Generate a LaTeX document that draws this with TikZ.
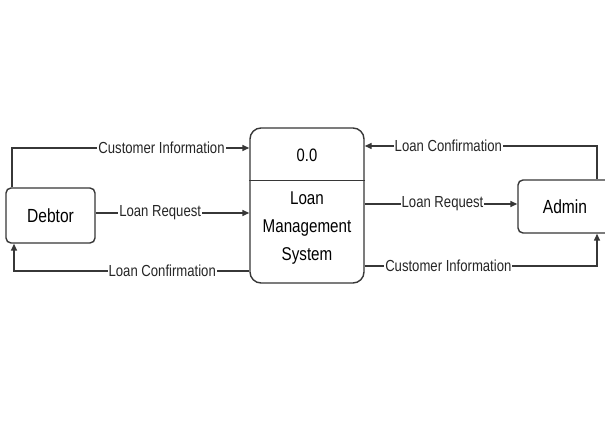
\documentclass[tikz,border=0pt]{standalone}
\usepackage{fontspec}
\setmainfont{Liberation Sans}[FakeStretch=0.82]
\usepackage{tikz}
\usetikzlibrary{arrows.meta}

\definecolor{linec}{RGB}{55,55,55}

\begin{document}
\begin{tikzpicture}[x=1pt,y=-1pt,
	entity/.style={draw=linec,line width=1.4pt,rounded corners=5pt,
		font=\fontsize{19}{21}\selectfont},
	procbox/.style={draw=linec,line width=1.4pt,rounded corners=11pt,
		minimum width=114pt,minimum height=155pt},
	flow/.style={draw=linec,line width=1.4pt,
		-{Triangle[length=7pt,width=6pt]}},
	lbl/.style={fill=white,inner sep=1pt,text=black!85,
		font=\fontsize{16}{18}\selectfont}]
	\useasboundingbox[fill=white] (0,0) rectangle (605,427);

	% entities and process
	\node [entity,minimum width=89pt,minimum height=55pt] (debtor) at (50.5,215.5) {Debtor};
	\node [entity,minimum width=94pt,minimum height=53pt] (admin) at (565,206.5) {Admin};
	\node [procbox] (proc) at (307,205.5) {};
	\node [font=\fontsize{18}{20}\selectfont] (pid) at (307,155) {0.0};
	\node [align=center,font=\fontsize{18.5}{28}\selectfont] (pname) at (307,228) {Loan\\Management\\System};
	\draw [draw=linec,line width=1.4pt] ([yshift=-53pt]proc.north west) -- ([yshift=-53pt]proc.north east);

	% bend points and flow heights
	\coordinate (dl) at (12,148);
	\coordinate (dr) at (0,213);
	\coordinate (db) at (14,271);
	\coordinate (ar) at (597,146);
	\coordinate (aq) at (0,204);
	\coordinate (ab) at (597,266);

	% debtor side
	\draw [flow] (debtor.north -| dl) -- (dl) -- (proc.west |- dl)
		node [lbl,pos=0.63] {Customer Information};
	\draw [flow] (debtor.east |- dr) -- (proc.west |- dr)
		node [lbl,pos=0.42] {Loan Request};
	\draw [flow] (proc.west |- db) -- (db)
		node [lbl,pos=0.37] {Loan Confirmation} -- (debtor.south -| db);

	% admin side
	\draw [flow] (admin.north -| ar) -- (ar) -- (proc.east |- ar)
		node [lbl,pos=0.64] {Loan Confirmation};
	\draw [flow] (proc.east |- aq) -- (admin.west |- aq)
		node [lbl,pos=0.51] {Loan Request};
	\draw [flow] (proc.east |- ab) -- (ab)
		node [lbl,pos=0.36] {Customer Information} -- (admin.south -| ab);
\end{tikzpicture}
\end{document}
